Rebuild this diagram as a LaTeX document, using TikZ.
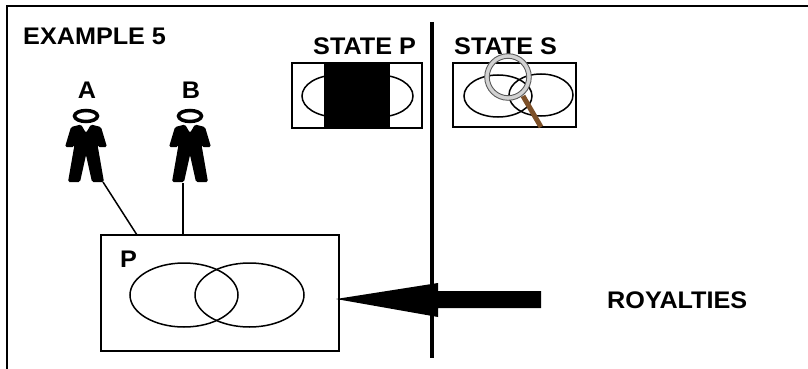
\documentclass[tikz,border=0pt]{standalone}
\usepackage{fontspec}
\setmainfont[FakeStretch=1.05]{Liberation Sans}
\definecolor{handlebrown}{RGB}{125,80,40}
\tikzset{
  lbl/.style={font=\fontsize{24}{24}\selectfont\bfseries, inner sep=0pt},
  thinln/.style={line width=1.5pt},
  person/.pic={
    \draw[line width=3.5pt] (0,0) ellipse [x radius=11.5, y radius=5.5];
    \fill[rounded corners=1.5pt] (-15,11) -- (-5,8.5) -- (0,17) -- (5,8.5) -- (15,11)
      -- (21,31) -- (12,31) -- (10.5,23) -- (18,66) -- (6,66) -- (0,39)
      -- (-6,66) -- (-18,66) -- (-10.5,23) -- (-12,31) -- (-21,31) -- cycle;
  }
}
\begin{document}
\begin{tikzpicture}[x=1pt,y=-1pt]
\useasboundingbox (0,0) rectangle (808,369);
% outer frame (top and left only)
\draw[line width=2.5pt] (808,6) -- (7,6) -- (7,369);
% title
\node[lbl, anchor=base west] (title) at (23,45) {EXAMPLE 5};
% persons
\node[lbl, anchor=base] (Alab) at (87,98) {A};
\node[lbl, anchor=base] (Blab) at (191,98) {B};
\pic (A) at (86,116) {person};
\pic (B) at (190,116) {person};
% box P
\node[draw, thinln, minimum width=238, minimum height=116, inner sep=0pt] (Pbox) at (220,293) {};
\node[lbl, anchor=base west] (Plab) at (120,267) {P};
\draw[thinln] (184,295) ellipse [x radius=54, y radius=32];
\draw[thinln] (249.5,295) ellipse [x radius=54.5, y radius=32];
% connectors from persons
\coordinate (Afoot) at (103,182);
\coordinate (Ahit) at (137,235);
\coordinate (Bfoot) at (183,183);
\coordinate (Bhit) at (183,235);
\draw[thinln] (Afoot) -- (Ahit);
\draw[thinln] (Bfoot) -- (Bhit);
% divider
\coordinate (divtop) at (432,22);
\coordinate (divbot) at (432,358);
\draw[line width=3.5pt] (divtop) -- (divbot);
% state P
\node[lbl, anchor=base west] (SPlab) at (313,55) {STATE P};
\draw[thinln] (336.5,96) ellipse [x radius=34.5, y radius=21];
\draw[thinln] (378.5,96) ellipse [x radius=34.5, y radius=21];
\fill (324,63) rectangle (390,128);
\draw[thinln] (292,63) rectangle (422,128);
% state S
\node[lbl, anchor=base west] (SSlab) at (454,55) {STATE S};
\draw[thinln] (453,63) rectangle (576,127);
\draw[thinln] (498,96) ellipse [x radius=34, y radius=21];
\draw[thinln] (541,95) ellipse [x radius=32, y radius=21];
% magnifier
\coordinate (lens) at (508,77);
\draw[line width=5pt, handlebrown] (523,96) -- (541,127);
\draw[line width=4.5pt, gray!35] (lens) circle [radius=21];
\draw[line width=0.9pt, gray!70!black] (lens) circle [radius=23.3];
\draw[line width=0.9pt, gray!70!black] (lens) circle [radius=18.7];
% royalties arrow
\fill (336,299) -- (438,283) -- (438,291) -- (541,291) -- (541,308)
  -- (438,308) -- (438,317) -- cycle;
\node[lbl, anchor=base west] (roy) at (607,308) {ROYALTIES};
\end{tikzpicture}
\end{document}
